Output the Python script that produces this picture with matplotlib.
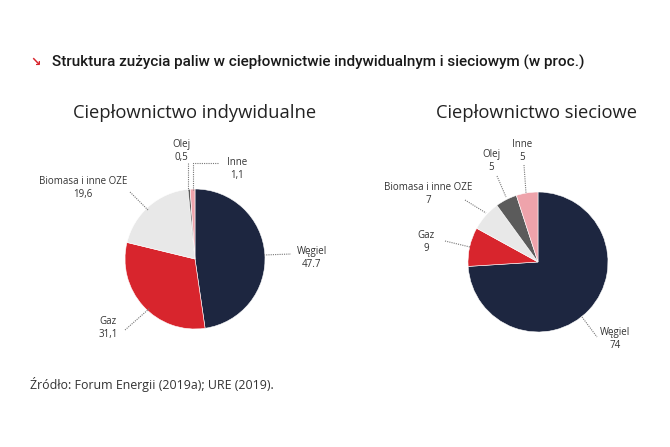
import matplotlib
matplotlib.use('Agg')
import matplotlib.pyplot as plt
import numpy as np

# dane
kategorie = ['Węgiel', 'Gaz', 'Biomasa i inne OZE', 'Olej', 'Inne']
indywidualne = [47.7, 31.1, 19.6, 0.5, 1.1]
indywidualne_txt = ['47.7', '31,1', '19,6', '0,5', '1,1']
sieciowe = [74, 9, 7, 5, 5]
sieciowe_txt = ['74', '9', '7', '5', '5']
kolory = ['#1d2640', '#d8252d', '#e8e8e8', '#5b5b5b', '#eea3ab']

W, H = 670, 447
fig = plt.figure(figsize=(W / 100, H / 100), dpi=100)
fig.patch.set_facecolor('white')

FONT = ['Open Sans', 'DejaVu Sans']
R = 70  # promień w pikselach
HALF = 3


def pie_axes(cx, cy):
    # osie w pikselach, 1 jednostka = R px
    ax = fig.add_axes([(cx - HALF * R) / W, 1 - (cy + HALF * R) / H,
                       2 * HALF * R / W, 2 * HALF * R / H])
    return ax


def rysuj(ax, cx, cy, wartosci, teksty, lab_pos, linie):
    ax.pie(wartosci, colors=kolory, startangle=90, counterclock=False,
           radius=1, wedgeprops=dict(linewidth=0.4, edgecolor='white'))
    ax.set_xlim(-HALF, HALF)
    ax.set_ylim(-HALF, HALF)
    ax.set_aspect('equal')
    ax.axis('off')

    def d(p):
        return ((p[0] - cx) / R, (cy - p[1]) / R)

    for kat, txt, pos, lin in zip(kategorie, teksty, lab_pos, linie):
        x, y = d(pos)
        ax.text(x, y, kat + '\n' + txt, ha='center', va='center',
                fontsize=7, color='#333333', family=FONT, linespacing=1.2,
                clip_on=False)
        pts = np.array([d(p) for p in lin])
        ax.plot(pts[:, 0], pts[:, 1], color='#777777', lw=0.8,
                ls=(0, (1, 1)), clip_on=False)


# lewy wykres
ax1 = pie_axes(195, 259)
rysuj(ax1, 195, 259, indywidualne, indywidualne_txt,
      [(312, 258), (108, 328), (83, 188), (181, 151), (237, 169)],
      [[(264, 255), (291, 254)],
       [(125, 330), (150, 308)],
       [(130, 192), (148, 210)],
       [(188, 163), (188, 190)],
       [(218, 163), (193, 163), (193, 190)]])

# prawy wykres
ax2 = pie_axes(538, 262)
rysuj(ax2, 538, 262, sieciowe, sieciowe_txt,
      [(615, 339), (426, 242), (428, 194), (491, 161), (522, 151)],
      [[(582, 317), (597, 337)],
       [(445, 241), (470, 247)],
       [(465, 200), (486, 213)],
       [(497, 176), (506, 197)],
       [(524, 165), (526, 193)]])

fig.text(195 / W, 1 - 113 / H, 'Ciepłownictwo indywidualne', ha='center',
         va='center', fontsize=13.2, color='#222222', family=FONT)
fig.text(537 / W, 1 - 113 / H, 'Ciepłownictwo sieciowe', ha='center',
         va='center', fontsize=13.2, color='#222222', family=FONT)

fig.text(30 / W, 1 - 62 / H, '↘', ha='left', va='center', fontsize=9,
         color='#d8252d', family=['DejaVu Sans'], fontweight='bold')
fig.text(52 / W, 1 - 62 / H,
         'Struktura zużycia paliw w ciepłownictwie indywidualnym i sieciowym (w proc.)',
         ha='left', va='center', fontsize=11, color='#1a1a1a',
         family=['Roboto', 'DejaVu Sans'], fontweight='medium')
fig.text(30 / W, 1 - 384 / H, 'Źródło: Forum Energii (2019a); URE (2019).',
         ha='left', va='center', fontsize=8.9, color='#333333', family=FONT)

plt.savefig('out.png', dpi=100, facecolor='white')
